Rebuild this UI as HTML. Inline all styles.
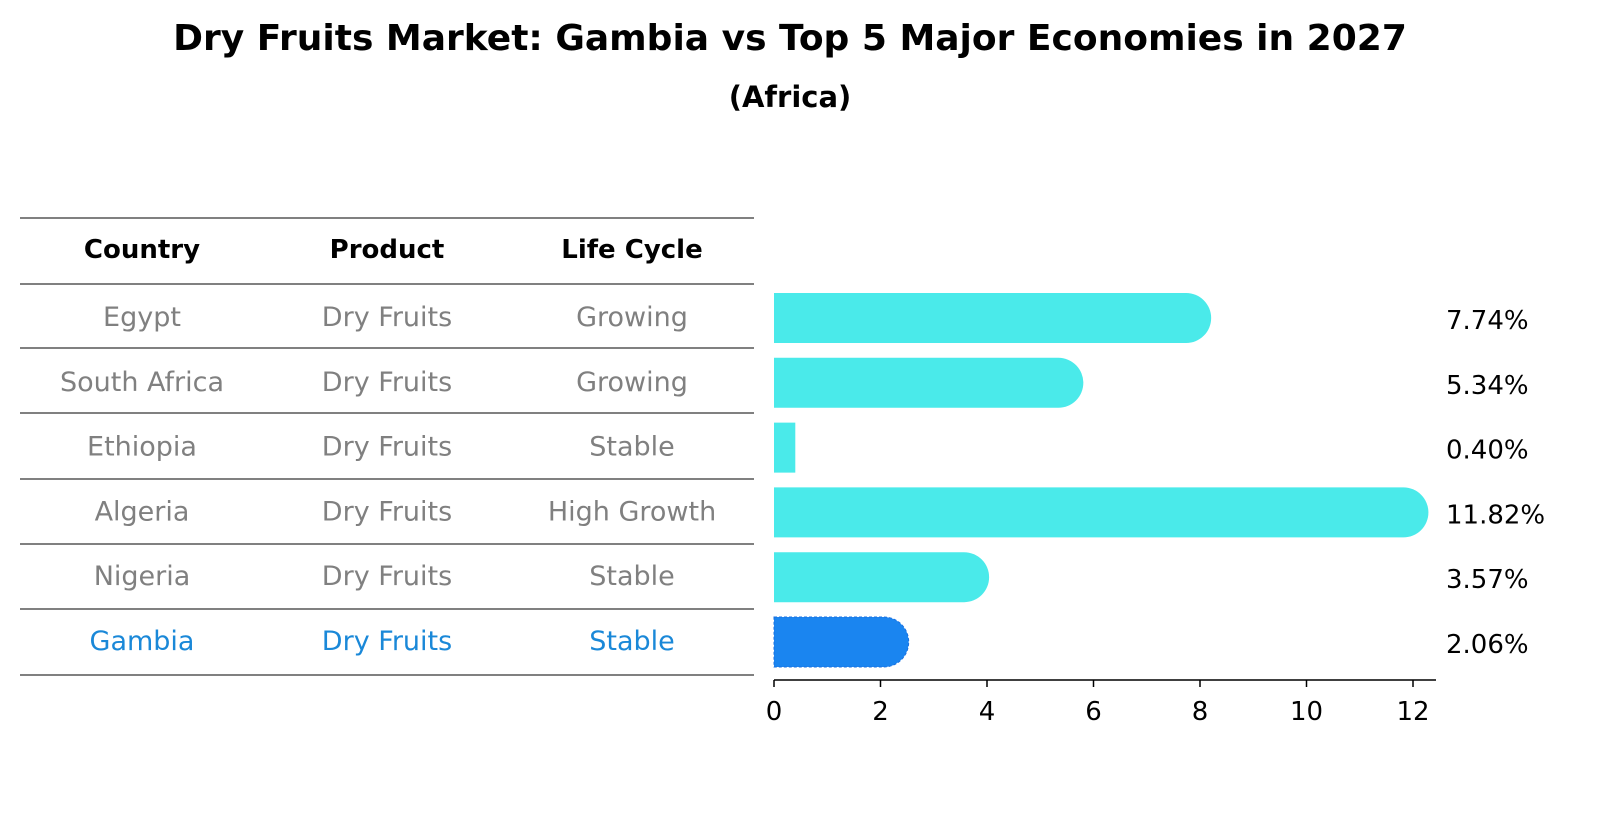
<!DOCTYPE html>
<html><head><meta charset="utf-8"><style>
body{margin:0;background:#fff;font-family:"Liberation Sans","DejaVu Sans",sans-serif;}
#w{position:relative;width:1604px;height:823px;overflow:hidden}
</style></head><body>
<div id="w">
<svg id="s" width="1604" height="823" style="position:absolute;left:0;top:0" font-family="DejaVu Sans, sans-serif">
<text x="790" y="50" text-anchor="middle" font-size="36" font-weight="bold">Dry Fruits Market: Gambia vs Top 5 Major Economies in 2027</text>
<text x="790" y="107" text-anchor="middle" font-size="29" font-weight="bold">(Africa)</text>
</svg>
</div>
<script>
const countries=["Egypt","South Africa","Ethiopia","Algeria","Nigeria","Gambia"];
const products=["Dry Fruits","Dry Fruits","Dry Fruits","Dry Fruits","Dry Fruits","Dry Fruits"];
const lifecycle=["Growing","Growing","Stable","High Growth","Stable","Stable"];
const values=[7.74,5.34,0.40,11.82,3.57,2.06];
const ticks=[0,2,4,6,8,10,12];
const NS="http://www.w3.org/2000/svg";
const s=document.getElementById('s');
function mk(t,a,txt){const e=document.createElementNS(NS,t);for(const k in a)e.setAttribute(k,a[k]);if(txt!==undefined)e.textContent=txt;s.appendChild(e);return e;}
const x=v=>774+v*53.25;
const rowY=i=>318+i*64.8;
const lines=[218,284,348,413,479,544,609,675];
lines.forEach((y,i)=>{const l=mk('line',{x1:20,x2:754,y1:y,y2:y,stroke:'#000','stroke-width':1});

});
const cx=[142,387,632];
["Country","Product","Life Cycle"].forEach((h,j)=>{const e=mk('text',{x:cx[j],y:258,'text-anchor':'middle','font-size':26,'font-weight':'bold'},h);

});
countries.forEach((c,i)=>{const col=i==5?'#1a88d8':'#808080';const y=rowY(i)+8;
[c,products[i],lifecycle[i]].forEach((t,j)=>{const e=mk('text',{x:cx[j],y:y,'text-anchor':'middle','font-size':27,fill:col},t);

});});
values.forEach((v,i)=>{const yc=rowY(i),h=50,col=i==5?'#1a85f0':'#4aeaea';
let d;
if(v>1){d=`M${x(0)},${yc-h/2} H${x(v)} A25,25 0 0 1 ${x(v)},${yc+h/2} H${x(0)} Z`;}
else d=`M${x(0)},${yc-h/2} H${x(v)} V${yc+h/2} H${x(0)} Z`;
const p=mk('path',{d:d,fill:col});
if(i==5){p.setAttribute('stroke','#1a70e0');p.setAttribute('stroke-dasharray','3,2');}


const t=mk('text',{x:1446,y:yc+11,'font-size':26},v.toFixed(2)+'%');

});
const ax=mk('line',{x1:774,x2:1436,y1:680,y2:680,stroke:'#000','stroke-width':1.5});


ticks.forEach(t=>{const l=mk('line',{x1:x(t),x2:x(t),y1:680,y2:687,stroke:'#000','stroke-width':1.5});


const e=mk('text',{x:x(t),y:720,'text-anchor':'middle','font-size':26},String(t));

});
</script>
</body></html>
